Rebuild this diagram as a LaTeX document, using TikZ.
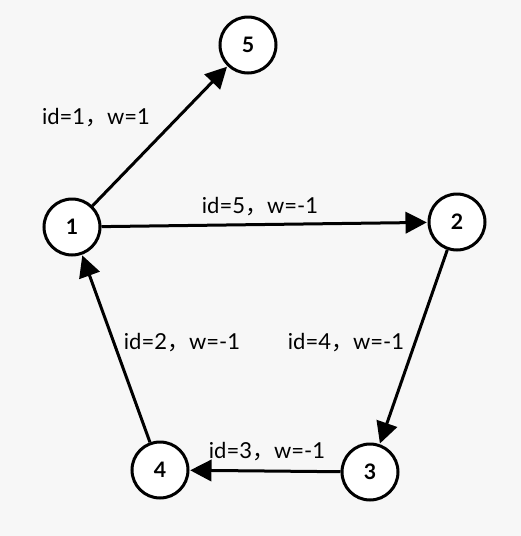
\documentclass[tikz,border=0pt]{standalone}
\usepackage{fontspec}
\setmainfont{Lato}
\newfontfamily\cjk{Noto Sans CJK SC}
\usepackage{tikz}
\usetikzlibrary{arrows.meta}

\newcommand{\fwc}{{\cjk ，}}

\begin{document}
\begin{tikzpicture}[
    x=0.75pt, y=-0.75pt,
    vert/.style={draw, circle, fill=white, line width=2.25pt, minimum size=42pt, inner sep=0pt, font=\fontsize{16}{18}\selectfont\bfseries},
    lbl/.style={inner sep=0pt, font=\fontsize{16.5}{18}\selectfont},
    arr/.style={-{Triangle[length=16pt, width=16pt]}, line width=2.25pt, shorten >=0.5pt}
]
\fill[black!3] (0,0) rectangle (521,536);
\useasboundingbox (0,0) rectangle (521,536);

\node[vert] (v5) at (248,45) {5};
\node[vert] (v1) at (72,227) {1};
\node[vert] (v2) at (457,222) {2};
\node[vert] (v3) at (370,472) {3};
\node[vert] (v4) at (160,470) {4};

\node[lbl] (l1) at (96,118) {id=1\fwc w=1};
\node[lbl] (l5) at (260,207) {id=5\fwc w=-1};
\node[lbl] (l2) at (182,343) {id=2\fwc w=-1};
\node[lbl] (l4) at (346,343) {id=4\fwc w=-1};
\node[lbl] (l3) at (267,452) {id=3\fwc w=-1};

\draw[arr] (v1) -- (v5);
\draw[arr] (v1) -- (v2);
\draw[arr] (v2) -- (v3);
\draw[arr] (v3) -- (v4);
\draw[arr] (v4) -- (v1);
\end{tikzpicture}
\end{document}
